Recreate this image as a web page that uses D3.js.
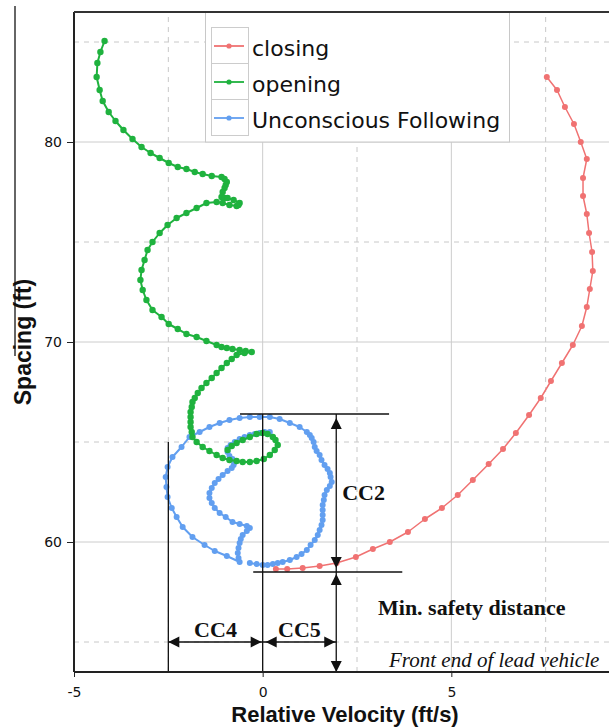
<!DOCTYPE html>
<html>
<head>
<meta charset="utf-8">
<script src="https://cdn.jsdelivr.net/npm/d3@7"></script>
<style>
  body { margin: 0; background: #fff; }
  svg { display: block; }
</style>
</head>
<body>
<div id="chart"></div>
<script>
// relative velocity (ft/s), spacing (ft)
const closing = [
  [7.53,83.25],[7.80,82.6],[8.01,81.75],[8.25,80.9],[8.43,80.0],[8.59,79.15],[8.49,78.2],[8.49,77.3],
  [8.59,76.4],[8.65,75.45],[8.73,74.5],[8.75,73.55],[8.67,72.65],[8.59,71.75],[8.46,70.8],[8.22,69.85],
  [7.93,68.95],[7.64,68.05],[7.37,67.2],[7.06,66.35],[6.71,65.45],[6.37,64.65],[5.99,63.9],[5.57,63.1],
  [5.17,62.35],[4.75,61.7],[4.30,61.15],[3.85,60.5],[3.37,60.0],[2.92,59.65],[2.47,59.25],[1.96,58.95],
  [1.51,58.8],[1.06,58.7],[0.65,58.65],[0.35,58.65]
];

const opening = [
  [-4.19,85.05],[-4.30,84.5],[-4.38,83.95],[-4.40,83.25],[-4.32,82.6],[-4.24,82.05],[-4.08,81.5],[-3.90,81.05],
  [-3.69,80.6],[-3.45,80.15],[-3.21,79.75],[-2.97,79.45],[-2.73,79.2],[-2.49,78.95],[-2.25,78.75],[-2.02,78.65],
  [-1.80,78.5],[-1.59,78.4],[-1.35,78.3],[-1.09,78.25],[-1.01,78.15],[-0.95,78.0],[-0.98,77.85],[-1.01,77.7],
  [-1.06,77.5],[-1.09,77.25],[-1.01,77.2],[-0.93,77.2],[-0.77,77.1],[-0.61,76.95],[-0.64,76.85],[-0.69,76.8],
  [-0.88,76.85],[-1.06,76.95],[-1.22,77.0],[-1.49,76.95],[-1.75,76.7],[-2.02,76.45],[-2.28,76.2],[-2.52,75.85],
  [-2.73,75.45],[-2.92,75.0],[-3.05,74.6],[-3.13,74.1],[-3.21,73.6],[-3.24,73.1],[-3.18,72.6],[-3.08,72.1],
  [-2.92,71.6],[-2.68,71.25],[-2.49,70.9],[-2.25,70.65],[-2.02,70.4],[-1.75,70.25],[-1.49,70.05],[-1.22,69.85],
  [-1.09,69.75],[-0.95,69.7],[-0.80,69.65],[-0.61,69.6],[-0.45,69.55],[-0.29,69.5],[-0.48,69.45],[-0.69,69.35],
  [-0.82,69.15],[-0.95,68.95],[-1.09,68.7],[-1.22,68.45],[-1.35,68.2],[-1.49,67.95],[-1.62,67.7],[-1.72,67.45],
  [-1.80,67.2],[-1.86,67.0],[-1.88,66.75],[-1.91,66.5],[-1.91,66.25],[-1.91,66.0],[-1.91,65.75],[-1.88,65.5],
  [-1.86,65.25],[-1.75,65.0],[-1.59,64.75],[-1.41,64.55],[-1.22,64.35],[-1.06,64.2],[-0.88,64.1],[-0.69,64.05],
  [-0.53,64.0],[-0.34,64.0],[-0.16,64.05],[0.03,64.15],[0.19,64.35],[0.32,64.6],[0.40,64.85],[0.34,65.1],
  [0.27,65.25],[0.13,65.4],[0.00,65.45],[-0.16,65.4],[-0.34,65.25],[-0.53,65.1],[-0.69,64.95],[-0.82,64.8],
  [-0.93,64.6]
];

const unconscious = [
  [0.19,65.5],[0.05,65.5],[-0.08,65.45],[-0.21,65.4],[-0.34,65.35],[-0.48,65.25],[-0.61,65.15],[-0.74,65.0],
  [-0.85,64.85],[-0.93,64.7],[-0.93,64.5],[-0.88,64.3],[-0.80,64.15],[-0.74,64.0],[-0.77,63.85],[-0.82,63.7],
  [-0.93,63.55],[-1.06,63.35],[-1.17,63.15],[-1.27,62.95],[-1.35,62.7],[-1.41,62.45],[-1.41,62.2],[-1.35,61.95],
  [-1.27,61.7],[-1.14,61.45],[-0.98,61.25],[-0.80,61.0],[-0.61,60.9],[-0.42,60.8],[-0.34,60.7],[-0.42,60.55],
  [-0.53,60.35],[-0.58,60.15],[-0.61,59.95],[-0.64,59.7],[-0.66,59.45],[-0.64,59.2],[-0.61,59.0],
  [-0.95,59.3],[-1.27,59.55],[-1.54,59.85],[-1.86,60.25],[-2.12,60.75],[-2.28,61.25],[-2.41,61.7],[-2.52,62.25],
  [-2.55,62.75],[-2.57,63.25],[-2.52,63.75],[-2.39,64.25],[-2.15,64.75],[-1.94,65.25],[-1.67,65.5],[-1.41,65.75],
  [-1.14,65.95],[-0.88,66.1],[-0.61,66.2],[-0.34,66.25],[-0.08,66.25],[0.19,66.25],[0.45,66.15],[0.72,65.95],
  [0.98,65.75],
  [1.17,65.5],[1.25,65.35],[1.30,65.2],[1.35,65.0],[1.38,64.75],[1.43,64.55],[1.51,64.35],[1.56,64.1],
  [1.64,63.85],[1.72,63.65],[1.78,63.45],[1.80,63.25],[1.83,63.0],[1.78,62.8],[1.70,62.6],[1.64,62.35],
  [1.62,62.1],[1.59,61.85],[1.59,61.6],[1.59,61.35],[1.59,61.1],[1.56,60.85],[1.51,60.6],[1.46,60.35],
  [1.38,60.1],[1.27,59.85],[1.17,59.6],[1.03,59.4],[0.90,59.25],[0.72,59.1],[0.53,59.0],[0.40,58.95],
  [0.27,58.9],[0.13,58.85],[0.00,58.85],[-0.16,58.9],[-0.34,58.95]
];

const seriesNames = ["closing", "opening", "Unconscious Following"];
const seriesColors = ["#f07272", "#1fb23e", "#629ff0"];

const xTicks = [-5, 0, 5];
const yTicks = [60, 70, 80];
const xMinor = [-2.5, 2.5, 7.5];
const yMinor = [55, 65, 75, 85];

// annotation geometry (data units)
const ccTop = 66.4;      // top of CC2
const ccBottom = 58.5;   // min. safety distance line
const ccArrowX = 1.95;
const ccRowY = 55;

const W = 609, H = 728;
const svg = d3.select("#chart").append("svg")
  .attr("width", W).attr("height", H)
  .style("font-family", "'Liberation Sans', Arial, sans-serif");

const x = d3.scaleLinear().domain([-5, 10]).range([74, 640]);
const y = d3.scaleLinear().domain([53.5, 86.5]).range([672, 12]);
const [x0] = x.range();
const [y0, y1] = y.range();

// grid
const grid = svg.append("g");
grid.selectAll(".gx").data([0, 5, 10]).enter().append("line")
  .attr("x1", d => x(d)).attr("x2", d => x(d)).attr("y1", y0).attr("y2", y1)
  .attr("stroke", "#cccccc").attr("stroke-width", 1);
grid.selectAll(".gy").data(yTicks).enter().append("line")
  .attr("x1", x0).attr("x2", W).attr("y1", d => y(d)).attr("y2", d => y(d))
  .attr("stroke", "#cccccc").attr("stroke-width", 1);
grid.selectAll(".mx").data(xMinor).enter().append("line")
  .attr("x1", d => x(d)).attr("x2", d => x(d)).attr("y1", y0).attr("y2", y1)
  .attr("stroke", "#c8c8c8").attr("stroke-dasharray", "5,5");
grid.selectAll(".my").data(yMinor).enter().append("line")
  .attr("x1", x0).attr("x2", W).attr("y1", d => y(d)).attr("y2", d => y(d))
  .attr("stroke", "#c8c8c8").attr("stroke-dasharray", "5,5");

// series: blue first, then green, then red on top
const line = d3.line().x(d => x(d[0])).y(d => y(d[1]));
const drawSeries = (data, color, r, w) => {
  const g = svg.append("g");
  g.append("path").datum(data)
    .attr("fill", "none").attr("stroke", color).attr("stroke-width", w)
    .attr("stroke-linejoin", "round").attr("d", line);
  g.selectAll("circle").data(data).enter().append("circle")
    .attr("cx", d => x(d[0])).attr("cy", d => y(d[1])).attr("r", r)
    .attr("fill", color);
};
drawSeries(unconscious, seriesColors[2], 3, 2);
drawSeries(opening, seriesColors[1], 3.2, 2);
drawSeries(closing, seriesColors[0], 3, 1.5);

// annotations
const ann = svg.append("g").attr("stroke", "#111").attr("stroke-width", 1.3);
const seg = (xa, ya, xb, yb) => ann.append("line")
  .attr("x1", x(xa)).attr("y1", y(ya)).attr("x2", x(xb)).attr("y2", y(yb));

seg(-2.5, 65, -2.5, 53.5);
seg(0, ccTop, 0, 53.5);
seg(-0.6, ccTop, 3.35, ccTop);
seg(-0.25, ccBottom, 3.7, ccBottom);
seg(ccArrowX, ccTop, ccArrowX, 53.5);
seg(-2.5, ccRowY, ccArrowX, ccRowY);

const head = (px, py, dir) => {
  const L = 11, hw = 5.5;
  let pts;
  if (dir === "up") pts = [[px, py], [px - hw, py + L], [px + hw, py + L]];
  if (dir === "down") pts = [[px, py], [px - hw, py - L], [px + hw, py - L]];
  if (dir === "left") pts = [[px, py], [px + L, py - hw], [px + L, py + hw]];
  if (dir === "right") pts = [[px, py], [px - L, py - hw], [px - L, py + hw]];
  svg.append("polygon").attr("points", pts.map(p => p.join(",")).join(" ")).attr("fill", "#111");
};
head(x(ccArrowX), y(ccTop) + 4, "up");
head(x(ccArrowX), y(ccBottom) - 4, "down");
head(x(ccArrowX), y(ccBottom) + 2, "up");
head(x(ccArrowX), y0, "down");
head(x(-2.5), y(ccRowY), "left");
head(x(0) - 1, y(ccRowY), "right");
head(x(0) + 3, y(ccRowY), "left");
head(x(ccArrowX) - 1, y(ccRowY), "right");

const serif = "'Liberation Serif', 'Times New Roman', serif";
const label = (txt, lx, ly, opts = {}) => svg.append("text")
  .attr("x", lx).attr("y", ly)
  .attr("text-anchor", opts.anchor || "start")
  .style("font-family", serif)
  .style("font-size", (opts.size || 22) + "px")
  .style("font-weight", opts.italic ? "normal" : "bold")
  .style("font-style", opts.italic ? "italic" : "normal")
  .attr("fill", "#111")
  .text(txt);
label("CC4", x(-1.25), 637, { anchor: "middle" });
label("CC5", x(ccArrowX / 2), 637, { anchor: "middle" });
label("CC2", x(ccArrowX) + 6, 500);
label("Min. safety distance", 378, 615);
label("Front end of lead vehicle", 389, 667, { italic: true, size: 21 });

// legend
const leg = svg.append("g");
leg.append("rect").attr("x", 205.5).attr("y", 12).attr("width", 304).attr("height", 130)
  .attr("fill", "#fff").attr("stroke", "#c8c8c8");
leg.append("rect").attr("x", 211.5).attr("y", 27.5).attr("width", 37).attr("height", 108)
  .attr("fill", "#fff").attr("stroke", "#cccccc");
[63.5, 99.5].forEach(yy => leg.append("line").attr("x1", 211.5).attr("x2", 248.5)
  .attr("y1", yy).attr("y2", yy).attr("stroke", "#cccccc"));
seriesNames.forEach((name, i) => {
  const cy = 46 + i * 36;
  leg.append("line").attr("x1", 214).attr("x2", 244).attr("y1", cy).attr("y2", cy)
    .attr("stroke", seriesColors[i]).attr("stroke-width", 1.8);
  leg.append("circle").attr("cx", 229).attr("cy", cy).attr("r", 2.6).attr("fill", seriesColors[i]);
  leg.append("text").attr("x", 252).attr("y", cy + 10)
    .style("font-family", "'DejaVu Sans', sans-serif").style("font-size", "22px")
    .attr("fill", "#111").text(name);
});

// axes
const yAxis = svg.append("g").attr("transform", `translate(${x0},0)`)
  .call(d3.axisLeft(y).tickValues(yTicks).tickSize(7).tickSizeOuter(0).tickPadding(5));
const xAxis = svg.append("g").attr("transform", `translate(0,${y0})`)
  .call(d3.axisBottom(x).tickValues(xTicks).tickFormat(d => String(d))
    .tickSize(5).tickSizeOuter(0).tickPadding(10));
[yAxis, xAxis].forEach(a => {
  a.select(".domain").remove();
  a.selectAll("line").attr("stroke", "#222");
  a.selectAll("text").style("font-family", "'DejaVu Sans', sans-serif")
    .style("font-size", "14px").attr("fill", "#111");
});

svg.append("line").attr("x1", x0).attr("x2", x0).attr("y1", y1).attr("y2", y0)
  .attr("stroke", "#222").attr("stroke-width", 2);
svg.append("line").attr("x1", x0).attr("x2", W).attr("y1", y0).attr("y2", y0)
  .attr("stroke", "#222").attr("stroke-width", 2);
svg.append("line").attr("x1", x0).attr("x2", W).attr("y1", y1).attr("y2", y1)
  .attr("stroke", "#333").attr("stroke-width", 2);
// stray frame edge on the left of the original
svg.append("line").attr("x1", 15).attr("x2", 15).attr("y1", 6).attr("y2", 356)
  .attr("stroke", "#333").attr("stroke-width", 1.5);

svg.append("text")
  .attr("x", 345).attr("y", 722)
  .attr("text-anchor", "middle")
  .style("font-size", "22px").style("font-weight", "bold").attr("fill", "#111")
  .text("Relative Velocity (ft/s)");

svg.append("text")
  .attr("transform", `translate(31,${y(70)}) rotate(-90)`)
  .attr("text-anchor", "middle")
  .style("font-size", "23px").style("font-weight", "bold").attr("fill", "#111")
  .text("Spacing (ft)");
</script>
</body>
</html>
